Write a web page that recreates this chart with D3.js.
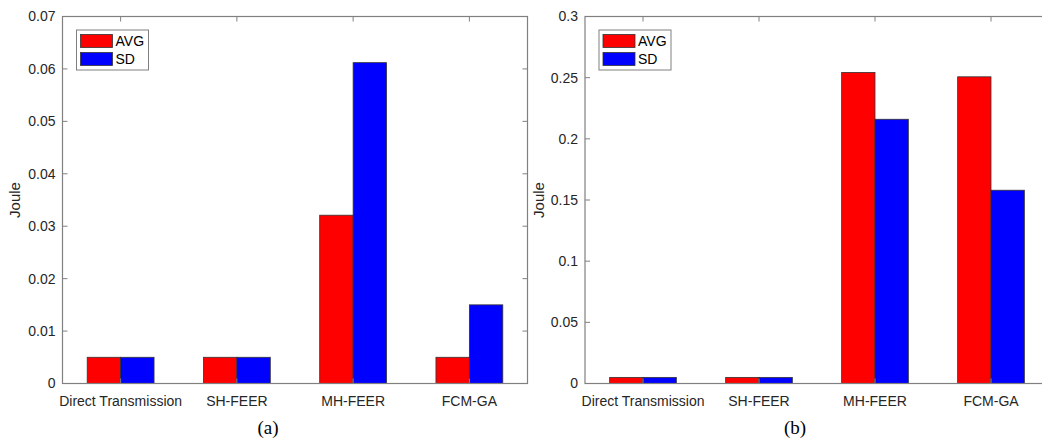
<!DOCTYPE html>
<html>
<head>
<meta charset="utf-8">
<script src="https://d3js.org/d3.v7.min.js"></script>
<style>
body{margin:0;background:#fff;}
text{font-family:"Liberation Sans",Arial,sans-serif;}
</style>
</head>
<body>
<svg id="chart" width="1042" height="439"></svg>
<script>
var categories=["Direct Transmission","SH-FEER","MH-FEER","FCM-GA"];
var seriesNames=["AVG","SD"];
var seriesColors=["#ff0000","#0000ff"];

// panel (a)
var avgA=[0.005,0.005,0.0321,0.005];
var sdA=[0.005,0.005,0.0612,0.015];
var ticksA=[0,0.01,0.02,0.03,0.04,0.05,0.06,0.07];

// panel (b)
var avgB=[0.005,0.005,0.2543,0.2507];
var sdB=[0.005,0.005,0.216,0.158];
var ticksB=[0,0.05,0.1,0.15,0.2,0.25,0.3];

var svg=d3.select("#chart");
var axisColor="#808080";
var textColor="#262626";

function drawPanel(opt){
	let g=svg.append("g");
	let left=opt.left, right=opt.right, top=16.5, bottom=383.5;

	let xScale=d3.scaleLinear().domain([0.5,4.5]).range([left,right]);
	let yScale=d3.scaleLinear().domain([0,opt.yMax]).range([bottom,top]);

	let rows=categories.map((c,i)=>({cat:c,idx:i,vals:[opt.avg[i],opt.sd[i]]}));
	let barW=0.2875;

	let groups=g.selectAll(".grp")
	.data(rows)
	.enter()
	.append("g")
	.classed("grp",true)

	groups.selectAll("rect")
	.data(d=>d.vals.map((v,j)=>({v:v,j:j,idx:d.idx})))
	.enter()
	.append("rect")
	.attr("x",d=>xScale(d.idx+1+(d.j-1)*barW))
	.attr("width",d=>xScale(barW)-xScale(0))
	.attr("y",d=>yScale(d.v))
	.attr("height",d=>yScale(0)-yScale(d.v))
	.attr("fill",d=>seriesColors[d.j])
	.attr("stroke","#333")
	.attr("stroke-width",0.8)

	// box
	g.append("rect")
	.attr("x",left).attr("y",top)
	.attr("width",right-left).attr("height",bottom-top)
	.attr("fill","none")
	.attr("stroke",axisColor)
	.attr("stroke-width",1.2)

	// y ticks (inside, mirrored)
	opt.ticks.forEach(t=>{
		g.append("line")
		.attr("x1",left).attr("x2",left+5)
		.attr("y1",yScale(t)).attr("y2",yScale(t))
		.attr("stroke",axisColor)
		g.append("line")
		.attr("x1",right).attr("x2",right-5)
		.attr("y1",yScale(t)).attr("y2",yScale(t))
		.attr("stroke",axisColor)
		g.append("text")
		.attr("x",left-7)
		.attr("y",yScale(t))
		.attr("dy","0.35em")
		.attr("text-anchor","end")
		.attr("font-size","14px")
		.attr("fill",textColor)
		.text(d3.format("~g")(t))
	})

	// x ticks + labels
	rows.forEach(d=>{
		let x=xScale(d.idx+1);
		g.append("line")
		.attr("x1",x).attr("x2",x)
		.attr("y1",bottom).attr("y2",bottom-5)
		.attr("stroke",axisColor)
		g.append("line")
		.attr("x1",x).attr("x2",x)
		.attr("y1",top).attr("y2",top+5)
		.attr("stroke",axisColor)
		g.append("text")
		.attr("x",x)
		.attr("y",bottom+22)
		.attr("text-anchor","middle")
		.attr("font-size","14px")
		.attr("fill",textColor)
		.text(d.cat)
	})

	// y label
	g.append("text")
	.attr("transform",`translate(${opt.ylabelX},${(top+bottom)/2}) rotate(-90)`)
	.attr("text-anchor","middle")
	.attr("font-size","15px")
	.attr("fill",textColor)
	.text("Joule")

	// legend
	let lx=left+14, ly=30;
	g.append("rect")
	.attr("x",lx).attr("y",ly)
	.attr("width",72).attr("height",40)
	.attr("fill","#fff")
	.attr("stroke",axisColor)
	.attr("stroke-width",1)
	seriesNames.forEach((s,j)=>{
		g.append("rect")
		.attr("x",lx+4).attr("y",ly+4.5+j*18)
		.attr("width",32).attr("height",13)
		.attr("fill",seriesColors[j])
		.attr("stroke","#333")
		.attr("stroke-width",0.8)
		g.append("text")
		.attr("x",lx+39).attr("y",ly+11+j*18)
		.attr("dy","0.35em")
		.attr("font-size","14px")
		.attr("fill","#000")
		.text(s)
	})

	// panel caption
	svg.append("text")
	.attr("x",opt.capX)
	.attr("y",434)
	.attr("text-anchor","middle")
	.style("font-family","'Liberation Serif','Times New Roman',serif")
	.attr("font-size","19px")
	.attr("fill","#000")
	.text(opt.caption)
}

drawPanel({left:62.5,right:527.5,yMax:0.07,avg:avgA,sd:sdA,ticks:ticksA,ylabelX:20,capX:268,caption:"(a)"})
drawPanel({left:585,right:1049,yMax:0.3,avg:avgB,sd:sdB,ticks:ticksB,ylabelX:544,capX:795,caption:"(b)"})
</script>
</body>
</html>
